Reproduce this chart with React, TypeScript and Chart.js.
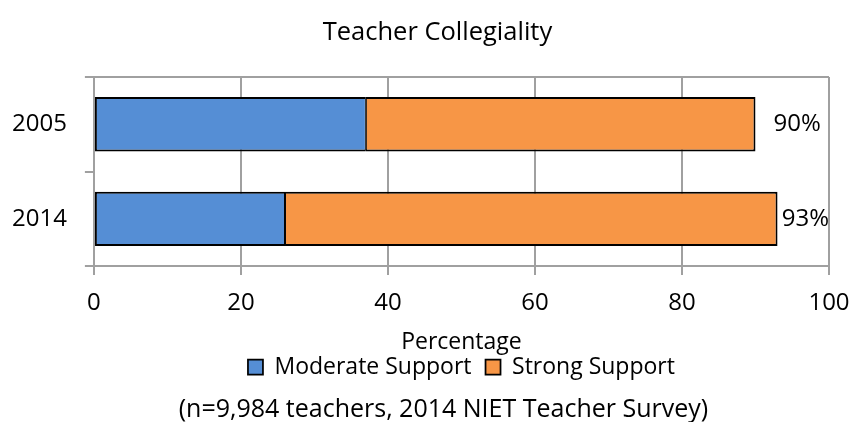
import React, { useEffect, useRef } from "react";
import { Chart, registerables } from "chart.js";

Chart.register(...registerables);

const categories = ["2005", "2014"];
const moderateSupport = [37, 26];
const strongSupport = [53, 67];
const xTicks = [0, 20, 40, 60, 80, 100];
const titleText = "Teacher Collegiality";
const captionText = "(n=9,984 teachers, 2014 NIET Teacher Survey)";

const FONT = "'Open Sans', sans-serif";
const GRID = "#a0a0a0";

const decorations = {
  id: "decorations",
  afterDatasetsDraw(chart: any) {
    const { ctx, chartArea } = chart;
    const meta = chart.getDatasetMeta(chart.data.datasets.length - 1);
    ctx.save();
    ctx.font = `24px ${FONT}`;
    ctx.fillStyle = "#000";
    ctx.textBaseline = "middle";
    ctx.textAlign = "left";
    meta.data.forEach((el: any, i: number) => {
      const text = `${moderateSupport[i] + strongSupport[i]}%`;
      const w = ctx.measureText(text).width;
      const x = Math.min(el.x + 18, chartArea.right - w);
      ctx.fillText(text, x, el.y);
    });
    ctx.restore();
  },
  afterDraw(chart: any) {
    const { ctx, chartArea } = chart;
    const mid = (chartArea.left + chartArea.right) / 2;
    ctx.save();
    ctx.fillStyle = "#000";
    ctx.textAlign = "center";
    ctx.textBaseline = "middle";
    ctx.font = `25.5px ${FONT}`;
    ctx.fillText(titleText, mid - 24, 33);
    ctx.font = `25px ${FONT}`;
    ctx.fillText(captionText, mid - 18, chart.height - 12);
    ctx.restore();
  },
};

export default function App() {
  const ref = useRef<HTMLCanvasElement>(null);
  useEffect(() => {
    document.body.style.margin = "0";
    const chart = new Chart(ref.current!, {
      type: "bar",
      data: {
        labels: categories,
        datasets: [
          {
            label: "Moderate Support",
            data: moderateSupport,
            backgroundColor: "#558ed5",
            borderColor: "#000",
            borderWidth: { top: 2, bottom: 2, left: 2, right: 1 },
            borderSkipped: false,
            barPercentage: 0.575,
            categoryPercentage: 1,
          },
          {
            label: "Strong Support",
            data: strongSupport,
            backgroundColor: "#f79646",
            borderColor: "#000",
            borderWidth: { top: 2, bottom: 2, left: 1, right: 2 },
            borderSkipped: false,
            barPercentage: 0.575,
            categoryPercentage: 1,
          },
        ],
      },
      options: {
        indexAxis: "y",
        animation: false,
        responsive: true,
        maintainAspectRatio: false,
        layout: { padding: { left: -6, right: 23, top: 77, bottom: 33.5 } },
        scales: {
          x: {
            stacked: true,
            min: 0,
            max: 100,
            afterBuildTicks: (scale: any) => {
              scale.ticks = xTicks.map((v) => ({ value: v }));
            },
            afterFit: (scale: any) => {
              scale.paddingRight = 0;
            },
            ticks: { color: "#000", font: { family: FONT, size: 24 }, padding: 13.5 },
            grid: { color: GRID, lineWidth: 2, tickLength: 9, tickColor: GRID },
            border: { color: GRID, width: 2 },
            title: {
              display: true,
              text: "Percentage",
              color: "#000",
              font: { family: FONT, size: 23 },
              padding: { top: -2.5, bottom: -14.5 },
            },
          },
          y: {
            stacked: true,
            ticks: { color: "#000", font: { family: FONT, size: 24 }, padding: 18 },
            grid: {
              offset: true,
              color: (c: any) => (c.index === 1 ? "rgba(0,0,0,0)" : GRID),
              tickColor: GRID,
              lineWidth: 2,
              tickLength: 9,
            },
            border: { color: GRID, width: 2 },
          },
        },
        plugins: {
          title: { display: false },
          legend: {
            position: "bottom",
            fullSize: false,
            labels: {
              color: "#000",
              font: { family: FONT, size: 23 },
              boxWidth: 15,
              boxHeight: 15,
              padding: 14,
            },
          },
          tooltip: { enabled: false },
        },
      },
      plugins: [decorations],
    });
    return () => chart.destroy();
  }, []);
  return (
    <div style={{ width: "852px", height: "422px", position: "relative" }}>
      <canvas ref={ref} />
    </div>
  );
}
